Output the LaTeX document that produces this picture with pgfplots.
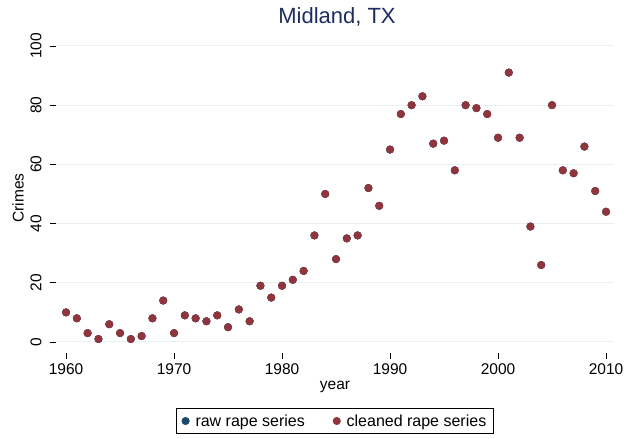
\documentclass[border=0pt]{standalone}
\usepackage{pgfplots}
\pgfplotsset{compat=1.18}
\usepackage{pgfplotstable}
\usepackage{fontspec}
\setmainfont{Liberation Sans}
\definecolor{stred}{RGB}{144,53,59}
\definecolor{stblue}{RGB}{26,71,111}
\definecolor{sttitle}{RGB}{30,45,95}
\definecolor{stgrid}{RGB}{232,240,242}
\pgfplotstableread{
year crimes
1960 10
1961 8
1962 3
1963 1
1964 6
1965 3
1966 1
1967 2
1968 8
1969 14
1970 3
1971 9
1972 8
1973 7
1974 9
1975 5
1976 11
1977 7
1978 19
1979 15
1980 19
1981 21
1982 24
1983 36
1984 50
1985 28
1986 35
1987 36
1988 52
1989 46
1990 65
1991 77
1992 80
1993 83
1994 67
1995 68
1996 58
1997 80
1998 79
1999 77
2000 69
2001 91
2002 69
2003 39
2004 26
2005 80
2006 58
2007 57
2008 66
2009 51
2010 44
}\rawdata
\pgfplotstableread{
year crimes
1960 10
1961 8
1962 3
1963 1
1964 6
1965 3
1966 1
1967 2
1968 8
1969 14
1970 3
1971 9
1972 8
1973 7
1974 9
1975 5
1976 11
1977 7
1978 19
1979 15
1980 19
1981 21
1982 24
1983 36
1984 50
1985 28
1986 35
1987 36
1988 52
1989 46
1990 65
1991 77
1992 80
1993 83
1994 67
1995 68
1996 58
1997 80
1998 79
1999 77
2000 69
2001 91
2002 69
2003 39
2004 26
2005 80
2006 58
2007 57
2008 66
2009 51
2010 44
}\cleandata
\begin{document}
\begin{tikzpicture}
\useasboundingbox (-56bp,-86bp) rectangle (581bp,353bp);
\begin{axis}[
  at={(0,0)}, anchor=south west,
  scale only axis, width=558bp, height=310bp,
  xmin=1959.07, xmax=2010.74, ymin=-3.72, ymax=101,
  axis line style={draw=none},
  xtick={1960,1970,...,2010}, ytick={0,20,...,100},
  tick align=outside, major tick length=6bp,
  tick style={black, line width=0.6bp},
  xtick pos=bottom, ytick pos=left,
  ymajorgrids, grid style={stgrid, line width=1bp},
  /pgf/number format/assume math mode=true,
  /pgf/number format/1000 sep={},
  ticklabel style={font=\fontsize{15.5bp}{18bp}\selectfont},
  yticklabel shift=5bp,
  xticklabel shift=1bp,
  yticklabel style={rotate=90, anchor=south},
  xlabel={year},
  ylabel={Crimes},
  label style={font=\fontsize{15.5bp}{18bp}\selectfont},
  xlabel style={at={(axis description cs:0.5,0)}, anchor=center, yshift=-34bp},
  ylabel style={at={(axis description cs:-0.068,0.5)}, anchor=center, rotate=0},
  legend columns=2,
  legend style={at={(axis description cs:0.5,0)}, anchor=center, yshift=-68bp,
    draw=black, line width=0.6bp, font=\fontsize{16bp}{19bp}\selectfont,
    inner xsep=5bp, inner ysep=4bp,
    /tikz/every odd column/.append style={column sep=4bp},
    /tikz/every even column/.append style={column sep=26bp}},
  legend cell align=left,
]
\addplot[only marks, mark=*, mark size=3.9bp, color=stblue, mark options={fill=stblue, draw=stblue, line width=0.2bp}] table[x=year, y=crimes] {\rawdata};
\addlegendentry{raw rape series}
\addplot[only marks, mark=*, mark size=3.9bp, color=stred, mark options={fill=stred, draw=stred, line width=0.2bp}] table[x=year, y=crimes] {\cleandata};
\addlegendentry{cleaned rape series}
\end{axis}
\node[text=sttitle, font=\fontsize{22bp}{26bp}\selectfont] at (281bp,336bp) {Midland, TX};
\end{tikzpicture}
\end{document}
